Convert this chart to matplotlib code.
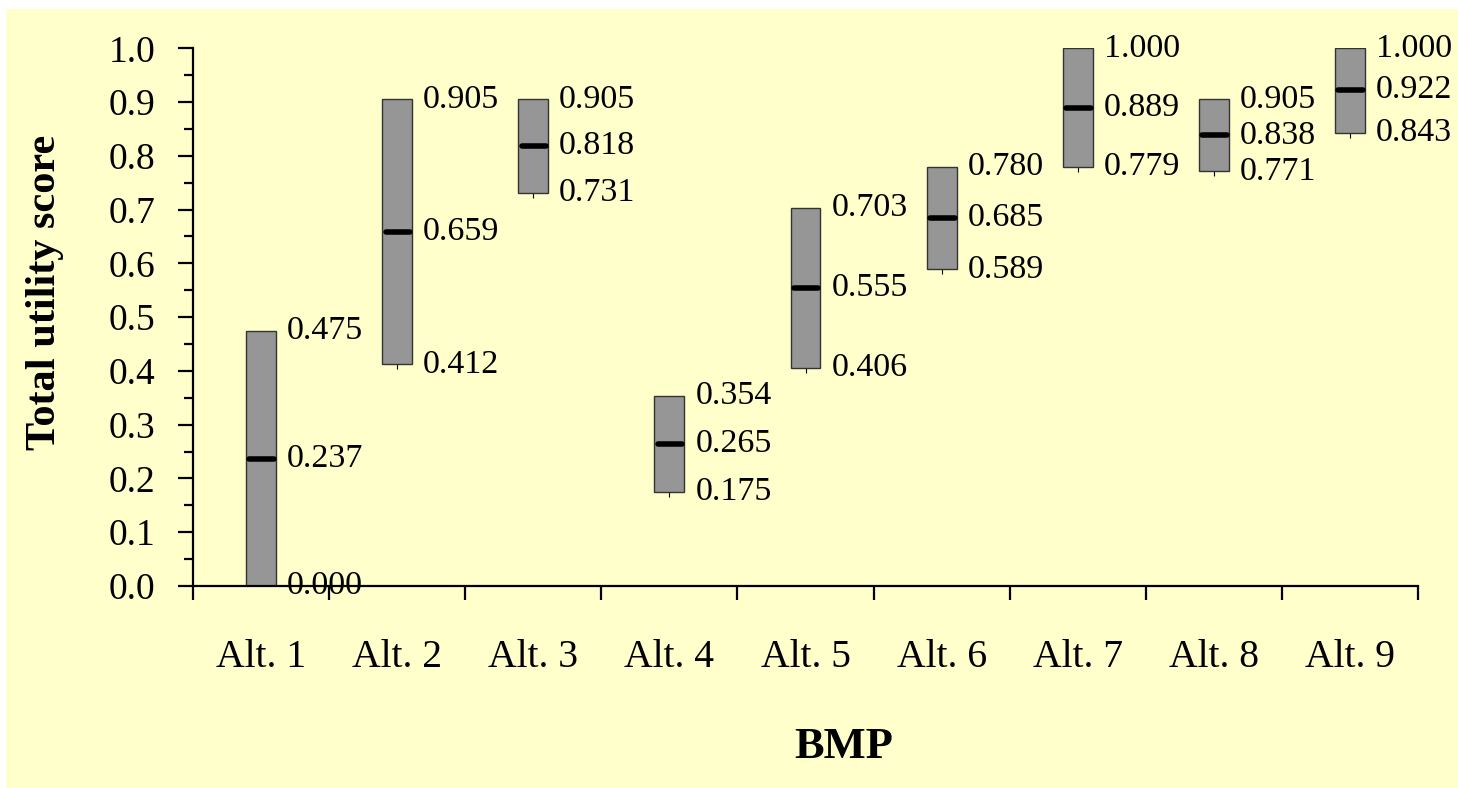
import numpy as np
import matplotlib
matplotlib.use("Agg")
import matplotlib.pyplot as plt
from matplotlib.patches import Rectangle

# datos
alternativas = ["Alt. 1", "Alt. 2", "Alt. 3", "Alt. 4", "Alt. 5",
                "Alt. 6", "Alt. 7", "Alt. 8", "Alt. 9"]
maximo = [0.475, 0.905, 0.905, 0.354, 0.703, 0.780, 1.000, 0.905, 1.000]
medio = [0.237, 0.659, 0.818, 0.265, 0.555, 0.685, 0.889, 0.838, 0.922]
minimo = [0.000, 0.412, 0.731, 0.175, 0.406, 0.589, 0.779, 0.771, 0.843]

plt.rcParams["font.family"] = ["Liberation Serif", "DejaVu Serif"]

fig = plt.figure(figsize=(14.58, 7.88), dpi=100)
fig.patch.set_facecolor("white")
# fondo amarillo con un pequeño margen blanco arriba e izquierda
fig.patches.append(Rectangle((6 / 1458, 0), 1, 1 - 9 / 788, transform=fig.transFigure,
                             facecolor="#FFFFCC", edgecolor="none", zorder=-10))

ax = fig.add_axes([193 / 1458, 1 - 586 / 788, (1418 - 193) / 1458, (586 - 48.3) / 788])
ax.set_facecolor("none")

x = np.arange(len(alternativas)) + 0.5
lo = np.array(minimo)
hi = np.array(maximo)

ax.plot(x, lo, linestyle="none", marker="|", markersize=7, color="black",
        markeredgewidth=0.8, zorder=1)
ax.bar(x, hi - lo, bottom=lo, width=0.22, color="#969696",
       edgecolor="#333333", linewidth=1.0, zorder=2)
ax.hlines(medio, x - 0.085, x + 0.095, colors="black", linewidth=4.0,
          capstyle="round", zorder=3)

for xi, a, m, b in zip(x, maximo, medio, minimo):
    for v in (a, m, b):
        ax.annotate(f"{v:.3f}", (xi + 0.11, v), xytext=(11, 0),
                    textcoords="offset pixels", va="center", ha="left",
                    fontsize=24.5, zorder=4, annotation_clip=False)

ax.set_xlim(0, len(alternativas))
ax.set_ylim(0, 1)

ax.set_yticks(np.arange(0, 1.01, 0.1))
ax.set_yticklabels([f"{v:.1f}" for v in np.arange(0, 1.01, 0.1)])
ax.set_yticks(np.arange(0.05, 1.0, 0.1), minor=True)
ax.tick_params(axis="y", which="major", length=11, width=1.6, direction="out",
               labelsize=27, pad=16)
ax.tick_params(axis="y", which="minor", length=6.5, width=1.6, direction="out")

ax.set_xticks(np.arange(0, len(alternativas) + 1))
ax.set_xticklabels([])
ax.set_xticks(x, minor=True)
ax.set_xticklabels(alternativas, minor=True)
ax.tick_params(axis="x", which="major", length=10, width=1.6, direction="out")
ax.tick_params(axis="x", which="minor", length=0, labelsize=28.5, pad=38)

for s in ["top", "right"]:
    ax.spines[s].set_visible(False)
for s in ["left", "bottom"]:
    ax.spines[s].set_linewidth(1.6)

fig.text(45 / 1458, 1 - 292 / 788, "Total utility score", rotation=90,
         ha="center", va="center", fontsize=30.5, fontweight="bold")
fig.text(844 / 1458, 1 - 747 / 788, "BMP", ha="center", va="center",
         fontsize=32, fontweight="bold")

fig.savefig("out.png", dpi=100)
